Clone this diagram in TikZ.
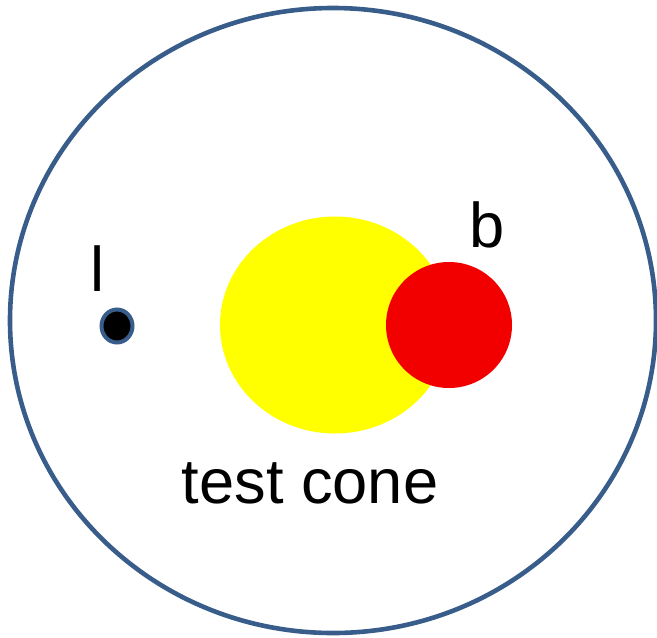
\documentclass[tikz,border=0pt]{standalone}
\usepackage{fontspec}
\setmainfont{Liberation Sans}
\definecolor{rim}{RGB}{56,93,138}
\definecolor{cone}{RGB}{255,255,0}
\definecolor{blob}{RGB}{242,0,0}

\begin{document}
\begin{tikzpicture}[x=0.5pt, y=-0.5pt,
  lbl/.style={anchor=base, inner sep=0pt, font=\fontsize{31.6}{36}\selectfont}]
\useasboundingbox (0,0) rectangle (657,637);
\draw[rim, line width=2.3pt] (333,320.5) ellipse [x radius=323, y radius=312.5];
\fill[cone] (335,325) ellipse [x radius=115, y radius=108.5];
\fill[blob] (449,325) circle (63);
\draw[rim, fill=black, line width=2pt] (117,326) ellipse [x radius=15.5, y radius=16.5];
\node[lbl] (l) at (98,291) {l};
\node[lbl] (b) at (487,247) {b};
\node[lbl] (cone) at (310,503) {test cone};
\end{tikzpicture}
\end{document}
